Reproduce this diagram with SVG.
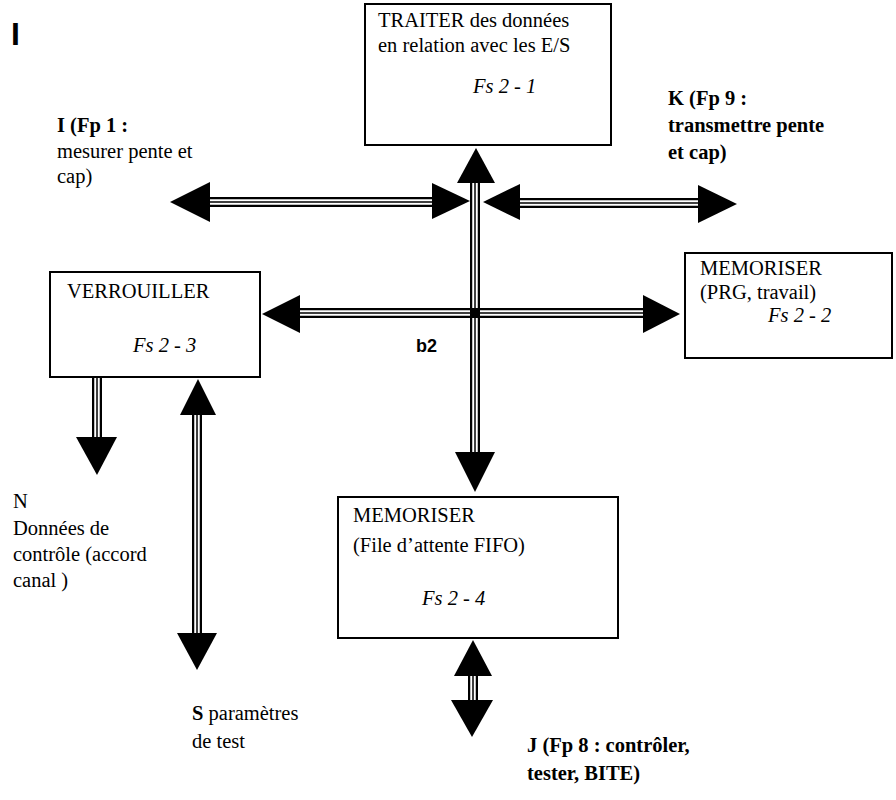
<svg xmlns="http://www.w3.org/2000/svg" width="896" height="800" viewBox="0 0 896 800">
<style>
.box{fill:#fff;stroke:#000;stroke-width:2}
.t{font-family:'Liberation Serif','DejaVu Serif','Times New Roman',serif;font-size:20.5px;fill:#000}
.i{font-style:italic}
.b{font-weight:bold}
.s1{stroke:#000;stroke-width:10;fill:none}
.s2{stroke:#fff;stroke-width:5.5;fill:none}
.s3{stroke:#000;stroke-width:1.5;fill:none}
.h{fill:#000}
</style>
<rect width="896" height="800" fill="#fff"/>
<text x="11" y="45" style="font-family:'Liberation Sans',Arial,sans-serif;font-weight:bold;font-size:32px">I</text>

<g id="connectors">
  <g id="c-upper-left">
    <path class="s1" d="M208 202H434"/><path class="s2" d="M208 202H434"/><path class="s3" d="M208 202H434"/>
    <polygon class="h" points="170,202 210,182 210,222"/>
    <polygon class="h" points="470,201 432,183 432,219"/>
  </g>
  <g id="c-upper-right">
    <path class="s1" d="M518 203H700"/><path class="s2" d="M518 203H700"/><path class="s3" d="M518 203H700"/>
    <polygon class="h" points="483,202 520,184 520,220"/>
    <polygon class="h" points="737,204 698,185 698,223"/>
  </g>
  <g id="c-b2">
    <path class="s1" d="M298 313H645"/><path class="s2" d="M298 313H645"/><path class="s3" d="M298 313H645"/>
    <polygon class="h" points="262,314 300,295 300,333"/>
    <polygon class="h" points="680,314 643,295 643,333"/>
  </g>
  <g id="c-vertical">
    <path class="s1" d="M475 181V454"/><path class="s2" d="M475 181V454"/><path class="s3" d="M475 181V454"/>
    <polygon class="h" points="476,148 457,183 495,183"/>
    <polygon class="h" points="475,492 455,452 495,452"/>
    <rect x="470" y="308" width="10" height="10" fill="#000"/>
  </g>
  <g id="c-n">
    <path class="s1" d="M97 377V439"/><path class="s2" d="M97 377V439"/><path class="s3" d="M97 377V439"/>
    <polygon class="h" points="97,475 76,437 117,437"/>
  </g>
  <g id="c-s">
    <path class="s1" d="M197 413V635"/><path class="s2" d="M197 413V635"/><path class="s3" d="M197 413V635"/>
    <polygon class="h" points="198,379 180,415 216,415"/>
    <polygon class="h" points="197,670 177,633 217,633"/>
  </g>
  <g id="c-j">
    <path class="s1" d="M473 674V702"/><path class="s2" d="M473 674V702"/><path class="s3" d="M473 674V702"/>
    <polygon class="h" points="473,640 454,676 492,676"/>
    <polygon class="h" points="472,737 451,700 493,700"/>
  </g>
</g>

<g id="node-traiter">
  <rect class="box" x="365" y="4" width="246" height="141"/>
  <text class="t" x="378" y="27">TRAITER des données</text>
  <text class="t" x="378" y="52">en relation avec les E/S</text>
  <text class="t i" x="473" y="93">Fs 2 - 1</text>
</g>

<g id="node-verrouiller">
  <rect class="box" x="50" y="272" width="210" height="105"/>
  <text class="t" x="67" y="298">VERROUILLER</text>
  <text class="t i" x="133" y="352">Fs 2 - 3</text>
</g>

<g id="node-memoriser-prg">
  <rect class="box" x="685" y="253" width="207" height="105"/>
  <text class="t" x="700" y="275">MEMORISER</text>
  <text class="t" x="700" y="299">(PRG, travail)</text>
  <text class="t i" x="768" y="322">Fs 2 - 2</text>
</g>

<g id="node-memoriser-fifo">
  <rect class="box" x="338" y="497" width="280" height="141"/>
  <text class="t" x="353" y="522">MEMORISER</text>
  <text class="t" x="353" y="552">(File d’attente FIFO)</text>
  <text class="t i" x="422" y="605">Fs 2 - 4</text>
</g>

<g id="label-i">
  <text class="t b" x="57" y="132">I (Fp 1 :</text>
  <text class="t" x="57" y="158">mesurer pente et</text>
  <text class="t" x="57" y="183">cap)</text>
</g>

<g id="label-k">
  <text class="t b" x="668" y="105">K (Fp 9 :</text>
  <text class="t b" x="668" y="132">transmettre pente</text>
  <text class="t b" x="668" y="159">et cap)</text>
</g>

<g id="label-b2">
  <text x="416" y="352" style="font-family:'Liberation Sans',Arial,sans-serif;font-weight:bold;font-size:18px">b2</text>
</g>

<g id="label-n">
  <text class="t" x="13" y="508">N</text>
  <text class="t" x="13" y="535">Données de</text>
  <text class="t" x="13" y="561">contrôle (accord</text>
  <text class="t" x="13" y="587">canal )</text>
</g>

<g id="label-s">
  <text class="t" x="192" y="720"><tspan class="b">S</tspan> paramètres</text>
  <text class="t" x="192" y="748">de test</text>
</g>

<g id="label-j">
  <text class="t b" x="527" y="752">J  (Fp 8 : contrôler,</text>
  <text class="t b" x="527" y="780">tester, BITE)</text>
</g>
</svg>
